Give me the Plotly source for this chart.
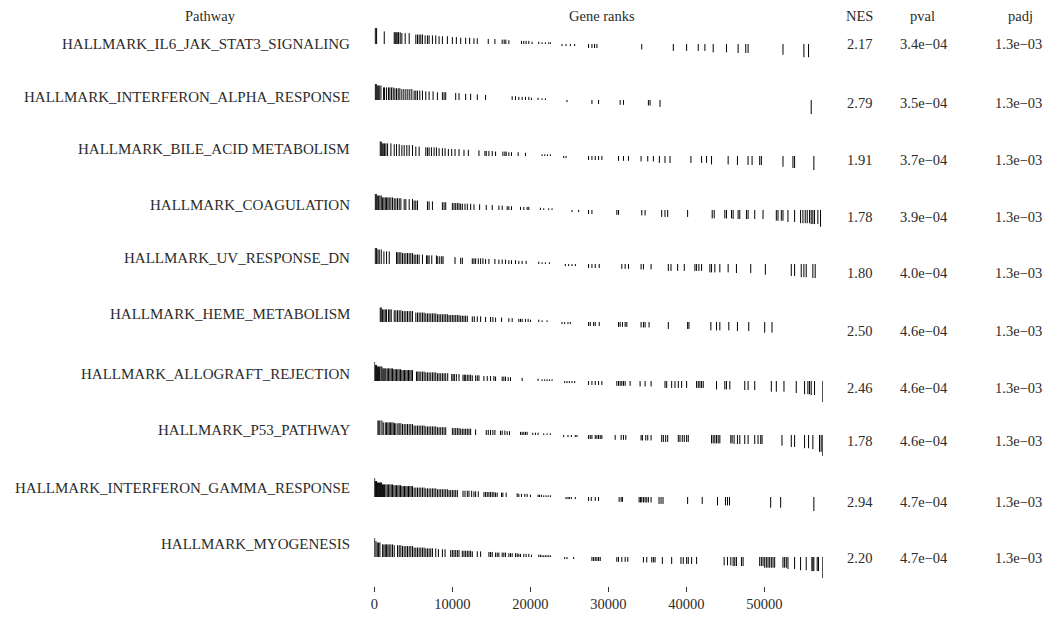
import numpy as np
import plotly.graph_objects as go

pathways = [
    "HALLMARK_IL6_JAK_STAT3_SIGNALING",
    "HALLMARK_INTERFERON_ALPHA_RESPONSE",
    "HALLMARK_BILE_ACID METABOLISM",
    "HALLMARK_COAGULATION",
    "HALLMARK_UV_RESPONSE_DN",
    "HALLMARK_HEME_METABOLISM",
    "HALLMARK_ALLOGRAFT_REJECTION",
    "HALLMARK_P53_PATHWAY",
    "HALLMARK_INTERFERON_GAMMA_RESPONSE",
    "HALLMARK_MYOGENESIS",
]
nes = [2.17, 2.79, 1.91, 1.78, 1.80, 2.50, 2.46, 1.78, 2.94, 2.20]
pval = [3.4e-4, 3.5e-4, 3.7e-4, 3.9e-4, 4.0e-4, 4.6e-4, 4.6e-4, 4.6e-4, 4.7e-4, 4.7e-4]
padj = [1.3e-3, 1.3e-3, 1.3e-3, 1.3e-3, 1.3e-3, 1.3e-3, 1.3e-3, 1.3e-3, 1.3e-3, 1.3e-3]

x_tick_values = [0, 10000, 20000, 30000, 40000, 50000]
x_tick_labels = ["0", "10000", "20000", "30000", "40000", "50000"]
n_genes = 57500

# normalised ranked statistic (start rank of each step, value)
stat_rank_start = [0, 100, 300, 1000, 2500, 3500, 5000, 6500, 8000, 9500, 11000, 12500,
                   14000, 15500, 17000, 18500, 20000, 21500, 23000, 24000, 26500, 30000,
                   33500, 36500, 43000, 46000, 50000, 53000, 54500, 56000, 57000, 57400]
stat_value = [0.9, 0.76, 0.69, 0.6, 0.56, 0.52, 0.45, 0.41, 0.37, 0.33, 0.3, 0.27,
              0.24, 0.21, 0.18, 0.15, 0.11, 0.08, 0.03, -0.1, -0.19, -0.23,
              -0.26, -0.33, -0.4, -0.43, -0.51, -0.57, -0.63, -0.67, -0.8, -1.0]

ranks_il6 = [128, 298, 1278, 2556, 2684, 2812, 2939, 3110, 3323, 3536, 3962, 4473, 5325, 5538,
             5751, 5964, 6177, 6518, 6816, 7029, 7455, 7881, 8307, 8733, 9372, 10011, 10522,
             11076, 11715, 12226, 12780, 13206, 14612, 15464, 16401, 16657, 16870, 17253,
             18872, 19170, 19468, 19809, 20235, 21087, 21513, 21939, 22365, 22578, 24069,
             24580, 25134, 25688, 27477, 27903, 28244, 28543, 34293, 38340, 40044, 41535,
             42387, 43452, 45156, 46647, 47627, 47925, 52398, 55082, 55678]
ranks_ifna = [128, 256, 383, 511, 639, 852, 1193, 1321, 1576, 1832, 2002, 2215, 2428, 2641,
              2854, 3067, 3280, 3536, 3791, 4047, 4303, 4558, 4814, 5112, 5325, 5538, 5836,
              6177, 6603, 7029, 7540, 8094, 8733, 8946, 9159, 10437, 10863, 11715, 12354,
              13206, 14271, 17679, 18105, 18531, 18957, 19383, 19809, 20150, 21002, 21513,
              21939, 24708, 27903, 28755, 31524, 31950, 35145, 35358, 36636, 56019]
ranks_bile = [767, 895, 1022, 1150, 1321, 1491, 1704, 2130, 2556, 2854, 3195, 3536, 3834,
              4175, 4473, 4899, 5325, 5751, 6603, 6816, 7029, 7327, 7668, 7966, 8307, 8733,
              9074, 9500, 9926, 10352, 10863, 11502, 12056, 13419, 14186, 14356, 14697, 15123,
              15549, 16486, 16742, 16912, 17253, 17594, 18446, 19383, 21513, 21854, 22195,
              22578, 24282, 24580, 27477, 27903, 28329, 28755, 29181, 31311, 31950, 32589,
              34208, 35060, 35784, 36551, 37275, 37914, 40598, 41961, 42600, 43239, 45369,
              46562, 47925, 48436, 49416, 49629, 52398, 53676, 53889, 56360]
ranks_coag = [128, 256, 383, 554, 724, 895, 1065, 1235, 1406, 1576, 1747, 1917, 2130, 2343,
              2556, 2769, 2982, 3195, 3408, 3834, 4047, 4473, 4899, 5112, 5325, 5538, 6816,
              7029, 7455, 8733, 8946, 9159, 10011, 10224, 10437, 10650, 10863, 11076, 11289,
              11630, 11928, 12354, 12780, 13504, 14356, 15123, 15975, 16401, 17040, 17253,
              17594, 18744, 19170, 19596, 19809, 21300, 21726, 22365, 22791, 25347, 26199,
              27477, 27903, 31098, 31311, 34293, 34719, 36849, 37275, 37616, 40172, 43324,
              43580, 44943, 45156, 45795, 46008, 46647, 46860, 47712, 47925, 48777, 49842,
              51546, 51759, 52185, 52398, 53037, 53889, 54656, 54954, 55252, 55508, 55806,
              56019, 56232, 56445, 56871, 57212]
ranks_uv = [128, 298, 469, 639, 895, 1235, 1576, 1917, 2854, 3025, 3195, 3408, 3621, 3834,
            4047, 4260, 4473, 4686, 4899, 5112, 5325, 5538, 5751, 6177, 6688, 6859, 7029,
            7370, 7966, 8137, 8392, 8648, 8818, 10352, 11076, 11289, 12567, 12780, 12993,
            13334, 13632, 13930, 14271, 14697, 15464, 15975, 16401, 16827, 17253, 17594,
            18105, 18531, 18957, 19468, 21087, 21513, 21939, 22450, 24495, 24921, 25347,
            25773, 27477, 27903, 28329, 28840, 31737, 32163, 32589, 34208, 34506, 35486,
            37701, 38042, 38894, 39746, 41109, 41322, 41620, 41961, 43026, 43239, 43665,
            44304, 45369, 46434, 48266, 50140, 53463, 53889, 54741, 55082, 55380, 56232, 56530]
ranks_heme = [767, 895, 1065, 1235, 1406, 1576, 1832, 2002, 2173, 2556, 2769, 2982, 3195,
              3408, 3621, 3834, 4047, 4260, 4473, 4686, 4899, 5325, 5538, 5751, 5964, 6177,
              6390, 6603, 6816, 7029, 7242, 7455, 7668, 7881, 8094, 8307, 8520, 8733, 8946,
              9159, 9372, 9585, 9798, 10011, 10224, 10437, 10650, 10863, 11076, 11289, 11502,
              11715, 11928, 12567, 12823, 13206, 13632, 14271, 14910, 15208, 15549, 16316,
              17253, 17679, 18531, 18744, 18957, 19383, 19724, 20022, 21087, 21513, 22152,
              24069, 24410, 24836, 25134, 27477, 27690, 28116, 28329, 28840, 31311, 31524,
              31822, 32163, 32376, 34208, 34506, 34719, 35230, 37701, 40172, 40342, 43154,
              43878, 44304, 45454, 46562, 48010, 50055, 50992]
ranks_allo = [43, 170, 298, 426, 554, 682, 852, 980, 1108, 1235, 1363, 1491, 1661, 1832,
              2002, 2173, 2343, 2513, 2684, 2854, 3025, 3195, 3365, 3536, 3706, 3877, 4047,
              4217, 4388, 4558, 4729, 4899, 5410, 5581, 5751, 5964, 6177, 6390, 6603, 6816,
              7029, 7242, 7455, 7668, 7881, 8094, 8307, 8520, 8733, 8946, 9159, 9415, 9926,
              10096, 10267, 10522, 10863, 11374, 11545, 11715, 11928, 12141, 12354, 12567,
              12993, 13206, 13419, 14058, 14484, 14910, 15336, 15549, 16401, 16614, 16827,
              17168, 17466, 18957, 21002, 21513, 21854, 22152, 22450, 22791, 24410, 24708,
              25006, 25347, 25688, 27477, 27903, 28329, 28755, 29181, 31098, 31311, 31524,
              31737, 31950, 32163, 32802, 34080, 34719, 35486, 37275, 37488, 38127, 38553,
              38979, 39405, 40044, 41322, 41535, 41748, 41961, 42174, 43878, 44943, 45156,
              45582, 47499, 47925, 48777, 50907, 51546, 52526, 54102, 55167, 55593, 55806,
              56019, 56445, 57480]
ranks_p53 = [469, 596, 724, 980, 1150, 1406, 1576, 1747, 1917, 2087, 2258, 2428, 2599, 2769,
             3025, 3195, 3408, 3621, 3834, 4047, 4260, 4473, 4686, 4899, 5112, 5325, 5538,
             5751, 5964, 6177, 6390, 6603, 6816, 7029, 7242, 7455, 7668, 7881, 8094, 8307,
             8520, 8733, 8946, 9159, 10011, 10224, 10437, 10650, 10863, 11076, 11289, 11502,
             11715, 11928, 12141, 12354, 12993, 14356, 14612, 14910, 15208, 15464, 16188,
             16401, 16742, 17040, 17338, 18744, 18957, 19170, 19383, 19596, 20320, 20661,
             21002, 21726, 22152, 22578, 24282, 24836, 25262, 25773, 25986, 27477, 27690,
             27903, 28329, 28542, 28755, 28968, 29181, 30885, 31652, 31950, 32248, 34208,
             34378, 34804, 35060, 35486, 36849, 37062, 37360, 37616, 38979, 39192, 39490,
             39746, 40044, 40257, 43239, 43452, 43665, 43878, 44091, 44304, 45710, 45880,
             46136, 46562, 46860, 47499, 47925, 48777, 49203, 49544, 49714, 52270, 53463,
             53889, 55167, 55678, 56232, 57084, 57297, 57480]
ranks_ifng = [43, 128, 213, 298, 426, 554, 682, 809, 937, 1065, 1193, 1321, 1491, 1661,
              1832, 2002, 2173, 2343, 2513, 2684, 2854, 3025, 3195, 3365, 3536, 3706, 3877,
              4047, 4217, 4388, 4558, 4729, 4899, 5112, 5325, 5538, 5751, 5964, 6177, 6390,
              6603, 6816, 7029, 7242, 7455, 7668, 7881, 8094, 8307, 8520, 8733, 8946, 9159,
              9372, 9585, 9798, 10011, 10224, 10437, 10650, 11374, 11630, 11928, 12141,
              12482, 12780, 12993, 13334, 14058, 14271, 14484, 14697, 14910, 15123, 15336,
              15549, 15762, 16316, 16486, 16912, 18318, 18531, 18872, 19298, 19596, 20022,
              21002, 21172, 21428, 21726, 22024, 22280, 22578, 24580, 24836, 25006, 25262,
              25773, 27477, 27818, 28329, 28755, 31396, 31652, 31822, 33952, 34123, 34293,
              34506, 34719, 34932, 35145, 35486, 36508, 36764, 37019, 40172, 42046, 44006,
              45028, 45284, 45539, 50822, 52100, 56360]
ranks_myo = [43, 213, 383, 554, 724, 1065, 1235, 1406, 1576, 1747, 1917, 2130, 2343, 2556,
             2982, 3195, 3408, 3621, 3834, 4047, 4260, 4473, 4686, 4899, 5112, 5325, 5538,
             5751, 5964, 6177, 6390, 6603, 6816, 7029, 7242, 7455, 7881, 8222, 8733, 9074,
             9798, 10011, 10224, 10437, 10650, 10863, 11289, 11502, 11715, 11928, 12141,
             12354, 12567, 13206, 13632, 14697, 14910, 15123, 15549, 15762, 15975, 16401,
             16614, 16827, 17253, 17466, 17679, 18105, 18318, 18531, 18744, 19170, 19468,
             19809, 20150, 21087, 21300, 21513, 21726, 21939, 22152, 22365, 22578, 24410,
             24708, 25560, 27903, 28116, 28329, 28542, 28755, 28968, 31098, 31311, 31737,
             32163, 32504, 34506, 34932, 35571, 35784, 35997, 36934, 38127, 39320, 39618,
             40044, 40257, 40683, 41322, 44858, 45284, 45710, 46008, 46221, 46434, 47073,
             47286, 49416, 49629, 49842, 50055, 50268, 50481, 50694, 50907, 51120, 51333,
             52398, 52611, 52824, 53037, 53889, 54656, 55380, 56104, 56232, 56360, 56786,
             56956, 57480]

gene_ranks = [ranks_il6, ranks_ifna, ranks_bile, ranks_coag, ranks_uv, ranks_heme,
              ranks_allo, ranks_p53, ranks_ifng, ranks_myo]

# ---------------- layout (pixel geometry of the 1049x620 page) ----------------
W, H = 1049, 620
FONT = "Liberation Serif"
TXT = "#2b2b2b"
FS = 14.5
FS_LABEL = 15
row_baseline_px = [44, 100, 156, 210, 264, 322, 381, 435, 497, 557]
half_px = 21
label_y_px = [44, 97, 149, 205, 258, 314, 374, 430, 488, 544]
value_y_px = [44, 103, 160, 217, 273, 331, 388, 441, 502, 558]
x0_px, x1_px = 371.7, 821.9


def py(p):
    return 1 - p / H


def px(p):
    return p / W


stat_rank_start_arr = np.array(stat_rank_start)
stat_value_arr = np.array(stat_value)

fig = go.Figure()
layout_axes = {}
for i, ranks in enumerate(gene_ranks):
    r = np.array(ranks)
    idx = np.searchsorted(stat_rank_start_arr, r, side="right") - 1
    h = stat_value_arr[idx]
    xs, ys = [], []
    for rr, hh in zip(r, h):
        xs += [rr, rr, None]
        ys += [0, hh, None]
    yname = "y" if i == 0 else f"y{i + 1}"
    fig.add_trace(go.Scatter(x=xs, y=ys, mode="lines", xaxis="x", yaxis=yname,
                             line=dict(color="black", width=1), hoverinfo="skip",
                             showlegend=False))
    key = "yaxis" if i == 0 else f"yaxis{i + 1}"
    b = row_baseline_px[i]
    layout_axes[key] = dict(domain=[py(b + half_px), py(b - half_px)], range=[-1, 1],
                            visible=False, anchor="x", fixedrange=True)

fig.update_layout(**layout_axes)
fig.update_layout(
    width=W, height=H, margin=dict(l=0, r=0, t=0, b=0),
    paper_bgcolor="white", plot_bgcolor="white",
    xaxis=dict(domain=[px(x0_px), px(x1_px)], range=[0, n_genes], anchor="free",
               position=py(586), showgrid=False, zeroline=False, showline=False,
               ticks="outside", ticklen=5, tickwidth=1, tickcolor="#333333",
               tickvals=x_tick_values, ticktext=x_tick_labels,
               tickfont=dict(family=FONT, size=FS, color=TXT), fixedrange=True),
)

ann = []


def add_text(text, x, y, xanchor="center", size=FS):
    ann.append(dict(text=text, x=px(x), y=py(y), xref="paper", yref="paper",
                    xanchor=xanchor, yanchor="middle", showarrow=False,
                    font=dict(family=FONT, size=size, color=TXT)))


add_text("Pathway", 207, 16)
add_text("Gene ranks", 600, 16)
add_text("NES", 859, 16)
add_text("pval", 922, 16)
add_text("padj", 1020, 16)

for i, name in enumerate(pathways):
    add_text(name, 349, label_y_px[i], xanchor="right", size=FS_LABEL)
    add_text(f"{nes[i]:.2f}", 859, value_y_px[i])
    add_text(f"{pval[i]:.1e}".replace("-", "\u2212"), 924, value_y_px[i])
    add_text(f"{padj[i]:.1e}".replace("-", "\u2212"), 1018, value_y_px[i])

fig.update_layout(annotations=ann)
fig.write_html("out.html", config={"displayModeBar": False},
               post_script="document.body.style.margin='0px';"
                           "document.body.style.overflow='hidden';")
